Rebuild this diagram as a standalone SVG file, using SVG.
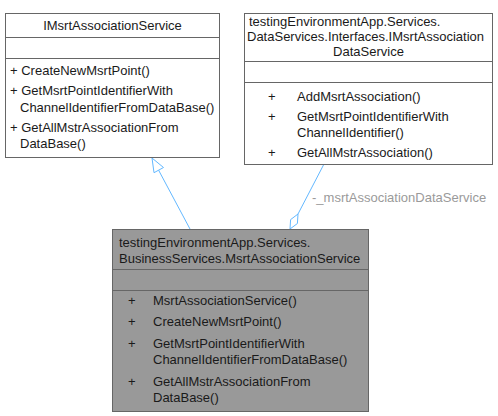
<svg xmlns="http://www.w3.org/2000/svg" width="498" height="416" viewBox="0 0 498 416">
<style>
.box{fill:#ffffff;stroke:#666666;stroke-width:1}
.cls{fill:#999999;stroke:#666666;stroke-width:1}
.sep{stroke:#666666;stroke-width:1}
text{font-family:"Liberation Sans",Arial,sans-serif;font-size:13px;fill:#1a1a1a}
.lbl{fill:#9a9a9a}
.edge{fill:none;stroke:#63b8ff;stroke-width:1}
.head{fill:#ffffff;stroke:#63b8ff;stroke-width:1}
</style>
<rect width="498" height="416" fill="#ffffff"/>
<g id="connectors">
<path class="edge" d="M190,229 L158.5,170"/>
<polygon class="head" points="152,158 163.5,167.5 154,172.7"/>
<path class="edge" d="M298,214 L324,164"/>
<polygon class="head" points="290,229 297.4,223.5 298,214 290.6,219.6"/>
<text class="lbl" x="312" y="202">-_msrtAssociationDataService</text>
</g>
<g id="IMsrtAssociationService">
<rect class="box" x="5.5" y="13.5" width="214" height="144"/>
<line class="sep" x1="5.5" y1="37.5" x2="219.5" y2="37.5"/>
<line class="sep" x1="5.5" y1="58.5" x2="219.5" y2="58.5"/>
<text x="112.5" y="30" text-anchor="middle">IMsrtAssociationService</text>
<text x="10" y="75">+ CreateNewMsrtPoint()</text>
<text x="10" y="95">+ GetMsrtPointIdentifierWith</text>
<text x="20" y="112">ChannelIdentifierFromDataBase()</text>
<text x="10" y="132">+ GetAllMstrAssociationFrom</text>
<text x="20" y="148">DataBase()</text>
</g>
<g id="IMsrtAssociationDataService">
<rect class="box" x="244.5" y="13.5" width="248" height="151"/>
<line class="sep" x1="244.5" y1="61.5" x2="492.5" y2="61.5"/>
<line class="sep" x1="244.5" y1="82.5" x2="492.5" y2="82.5"/>
<text x="249" y="26">testingEnvironmentApp.Services.</text>
<text x="247" y="41">DataServices.Interfaces.IMsrtAssociation</text>
<text x="368.5" y="56" text-anchor="middle">DataService</text>
<text x="268" y="101">+</text>
<text x="297" y="101">AddMsrtAssociation()</text>
<text x="268" y="121">+</text>
<text x="297" y="121">GetMsrtPointIdentifierWith</text>
<text x="297" y="137">ChannelIdentifier()</text>
<text x="268" y="157">+</text>
<text x="297" y="157">GetAllMstrAssociation()</text>
</g>
<g id="MsrtAssociationService">
<rect class="cls" x="112.5" y="229.5" width="256" height="182"/>
<line class="sep" x1="112.5" y1="269.5" x2="368.5" y2="269.5"/>
<line class="sep" x1="112.5" y1="290.5" x2="368.5" y2="290.5"/>
<text x="119" y="247">testingEnvironmentApp.Services.</text>
<text x="119" y="263">BusinessServices.MsrtAssociationService</text>
<text x="128" y="305">+</text>
<text x="153" y="305">MsrtAssociationService()</text>
<text x="128" y="326">+</text>
<text x="153" y="326">CreateNewMsrtPoint()</text>
<text x="128" y="348">+</text>
<text x="153" y="348">GetMsrtPointIdentifierWith</text>
<text x="153" y="364">ChannelIdentifierFromDataBase()</text>
<text x="128" y="386">+</text>
<text x="153" y="386">GetAllMstrAssociationFrom</text>
<text x="153" y="402">DataBase()</text>
</g>
</svg>
